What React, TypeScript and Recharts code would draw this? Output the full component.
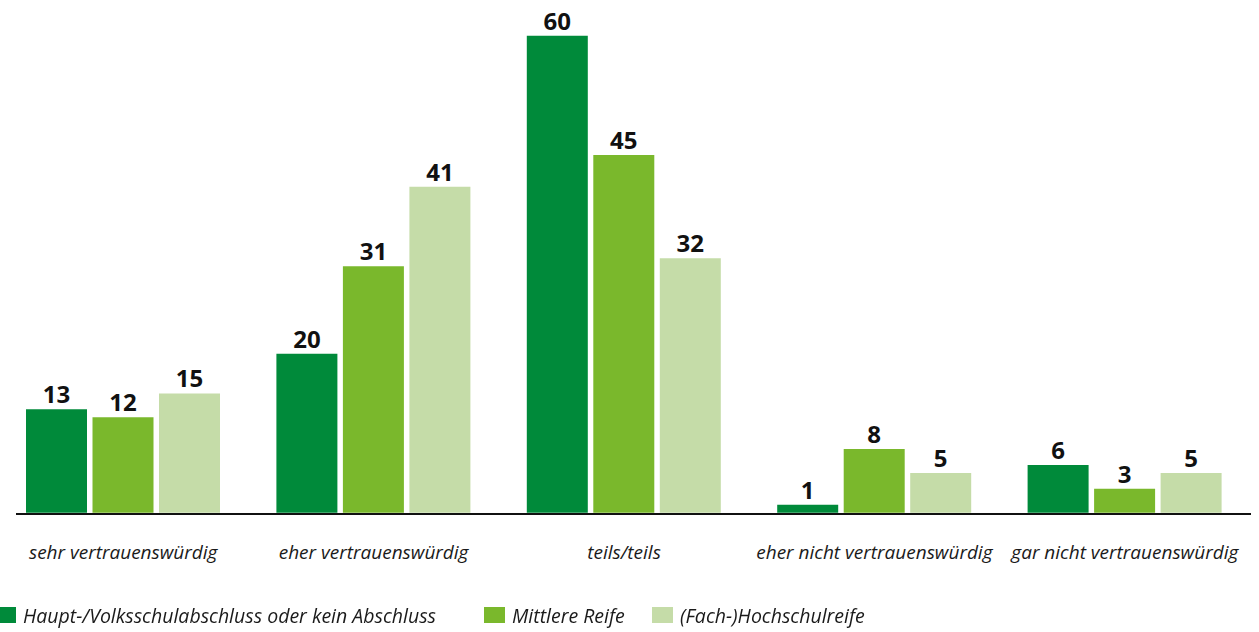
import React from "react";
import { BarChart, Bar, XAxis, YAxis, LabelList } from "recharts";

const categories = [
  "sehr vertrauenswürdig",
  "eher vertrauenswürdig",
  "teils/teils",
  "eher nicht vertrauenswürdig",
  "gar nicht vertrauenswürdig",
];
const seriesNames = [
  "Haupt-/Volksschulabschluss oder kein Abschluss",
  "Mittlere Reife",
  "(Fach-)Hochschulreife",
];
const hauptValues = [13, 20, 60, 1, 6];
const mittlereValues = [12, 31, 45, 8, 3];
const hochValues = [15, 41, 32, 5, 5];
const seriesColors = ["#008A3A", "#7AB82C", "#C5DCA8"];

const data = categories.map((c, i) => ({
  name: c,
  s0: hauptValues[i],
  s1: mittlereValues[i],
  s2: hochValues[i],
}));

const FONT = "'Open Sans', 'Noto Sans', sans-serif";

const Tick = (props: any) => {
  const { x, y, payload } = props;
  return (
    <text
      x={x}
      y={y + 44}
      textAnchor="middle"
      fontFamily={FONT}
      fontStyle="italic"
      fontSize={19}
      fill="#1a1a1a"
    >
      {payload.value}
    </text>
  );
};

export default function App() {
  return (
    <div style={{ position: "relative", marginLeft: -10, marginTop: -8, width: 1269, height: 632 }}>
      <BarChart
        width={1262}
        height={632}
        data={data}
        margin={{ top: 35.7, right: 10, bottom: 89.3, left: 0 }}
        barSize={61}
        barGap={5.5}
      >
        <XAxis
          dataKey="name"
          height={30}
          axisLine={false}
          tickLine={false}
          tickSize={0}
          tick={<Tick />}
          interval={0}
        />
        <YAxis hide domain={[0, 60]} />
        {["s0", "s1", "s2"].map((k, i) => (
          <Bar key={k} dataKey={k} name={seriesNames[i]} fill={seriesColors[i]} isAnimationActive={false}>
            <LabelList
              dataKey={k}
              position="top"
              offset={6}
              fill="#111"
              fontFamily={FONT}
              fontWeight={700}
              fontSize={24}
            />
          </Bar>
        ))}
      </BarChart>
      <div
        style={{
          position: "absolute",
          left: 18.3,
          top: 512.7,
          width: 1235,
          height: 2.7,
          background: "#111",
        }}
      />
      {seriesNames.map((n, i) => (
        <div
          key={n}
          style={{
            position: "fixed",
            left: [-5, 484, 652][i],
            top: 602,
            height: 26,
            display: "flex",
            alignItems: "center",
            fontFamily: FONT,
            fontStyle: "italic",
            fontSize: 19.5,
            color: "#1a1a1a",
            whiteSpace: "nowrap",
          }}
        >
          <div style={{ width: 21, height: 16, flexShrink: 0, background: seriesColors[i], marginRight: 7 }} />
          <span>{n}</span>
        </div>
      ))}
    </div>
  );
}
